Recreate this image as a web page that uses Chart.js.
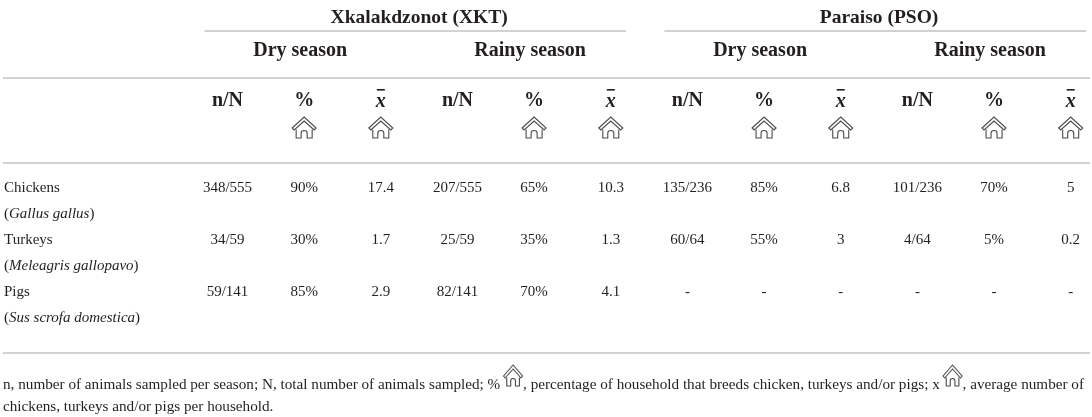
<!DOCTYPE html>
<html>
<head>
<meta charset="utf-8">
<script src="https://cdn.jsdelivr.net/npm/chart.js@4.4.1/dist/chart.umd.min.js"></script>
<style>
  html, body { margin: 0; padding: 0; background: #fff; }
  #wrap { width: 1092px; height: 417px; position: relative; }
</style>
</head>
<body>
<div id="wrap"><canvas id="tableChart"></canvas></div>
<script>
// table content
const groups = ['Xkalakdzonot (XKT)', 'Paraiso (PSO)'];
const seasons = ['Dry season', 'Rainy season'];
const colHeads = ['n/N', '%', 'x'];
const columns = ['XKT dry n/N', 'XKT dry %', 'XKT dry x', 'XKT rainy n/N', 'XKT rainy %', 'XKT rainy x',
                 'PSO dry n/N', 'PSO dry %', 'PSO dry x', 'PSO rainy n/N', 'PSO rainy %', 'PSO rainy x'];
const species = ['Chickens', 'Turkeys', 'Pigs'];
const sciNames = ['Gallus gallus', 'Meleagris gallopavo', 'Sus scrofa domestica'];
const chickens = ['348/555', '90%', '17.4', '207/555', '65%', '10.3', '135/236', '85%', '6.8', '101/236', '70%', '5'];
const turkeys = ['34/59', '30%', '1.7', '25/59', '35%', '1.3', '60/64', '55%', '3', '4/64', '5%', '0.2'];
const pigs = ['59/141', '85%', '2.9', '82/141', '70%', '4.1', '-', '-', '-', '-', '-', '-'];
const footLine1 = ['n, number of animals sampled per season; N, total number of animals sampled; % ',
                   ', percentage of household that breeds chicken, turkeys and/or pigs; x ',
                   ', average number of'];
const footLine2 = 'chickens, turkeys and/or pigs per household.';

const rowLabels = [];
species.forEach((s, i) => { rowLabels.push(s); rowLabels.push('(' + sciNames[i] + ')'); });

const TEXT = '#231f20';
const RULE = '#d2d2d2';
const SERIF = '"Liberation Serif", "DejaVu Serif", serif';

function houseIcon(ctx, cx, top, w, h) {
    const sx = w / 24, sy = h / 21;
    const X = v => cx + v * sx, Y = v => top + v * sy;
    ctx.save();
    ctx.strokeStyle = '#4a4a4a';
    ctx.lineWidth = 1.1;
    ctx.lineJoin = 'miter';
    // roof band
    ctx.beginPath();
    ctx.moveTo(X(-12), Y(11));
    ctx.lineTo(X(0), Y(0));
    ctx.lineTo(X(12), Y(11));
    ctx.lineTo(X(10), Y(13));
    ctx.lineTo(X(0), Y(4));
    ctx.lineTo(X(-10), Y(13));
    ctx.closePath();
    ctx.stroke();
    // walls and door
    ctx.beginPath();
    ctx.moveTo(X(-8), Y(12.5));
    ctx.lineTo(X(-8), Y(21));
    ctx.lineTo(X(-3), Y(21));
    ctx.lineTo(X(-3), Y(16));
    ctx.quadraticCurveTo(X(-3), Y(13.5), X(0), Y(13.5));
    ctx.quadraticCurveTo(X(3), Y(13.5), X(3), Y(16));
    ctx.lineTo(X(3), Y(21));
    ctx.lineTo(X(8), Y(21));
    ctx.lineTo(X(8), Y(12.5));
    ctx.stroke();
    ctx.restore();
}

function rule(ctx, x1, x2, y) {
    ctx.save();
    ctx.strokeStyle = RULE;
    ctx.lineWidth = 2;
    ctx.beginPath();
    ctx.moveTo(x1, y);
    ctx.lineTo(x2, y);
    ctx.stroke();
    ctx.restore();
}

const tablePlugin = {
    id: 'tableText',
    afterDatasetsDraw(chart) {
        const ctx = chart.ctx;
        const xs = chart.scales.x;
        const ys = chart.scales.y;
        const W = chart.width;
        const step = xs.getPixelForValue(1) - xs.getPixelForValue(0);
        ctx.save();
        ctx.fillStyle = TEXT;
        ctx.textBaseline = 'middle';

        // group headings
        ctx.font = 'bold 19.5px ' + SERIF;
        ctx.textAlign = 'center';
        groups.forEach((g, gi) => {
            const a = xs.getPixelForValue(gi * 6), b = xs.getPixelForValue(gi * 6 + 5);
            ctx.fillText(g, (a + b) / 2, 18);
            rule(ctx, a - 0.3 * step, gi === 1 ? W - 6 : b + 0.2 * step, 31);
        });

        // seasons
        ctx.font = 'bold 20px ' + SERIF;
        for (let k = 0; k < 4; k++) {
            ctx.fillText(seasons[k % 2], xs.getPixelForValue(k * 3 + 1) - 4, 51);
        }
        rule(ctx, 3, W - 2, 78);

        // column headers + house icons
        columns.forEach((c, i) => {
            const x = xs.getPixelForValue(i);
            const head = colHeads[i % 3];
            if (head === 'x') {
                ctx.font = 'italic bold 20px ' + SERIF;
                ctx.fillText('x', x, 102);
                ctx.fillRect(x - 4, 89, 8, 1.6);
            } else {
                ctx.font = 'bold 20px ' + SERIF;
                ctx.fillText(head, x, 101);
            }
            if (i % 3 !== 0) houseIcon(ctx, x, 117, 24, 21);
        });
        rule(ctx, 3, W - 2, 163);

        // row labels
        ctx.textAlign = 'left';
        rowLabels.forEach((r, ri) => {
            const y = ys.getPixelForValue(ri);
            if (ri % 2 === 0) {
                ctx.font = '15px ' + SERIF;
                ctx.fillText(r, 4, y);
            } else {
                const name = sciNames[ri >> 1];
                let x = 4;
                ctx.font = '15px ' + SERIF;
                ctx.fillText('(', x, y); x += ctx.measureText('(').width;
                ctx.font = 'italic 15px ' + SERIF;
                ctx.fillText(name, x, y); x += ctx.measureText(name).width;
                ctx.font = '15px ' + SERIF;
                ctx.fillText(')', x, y);
            }
        });

        // cell values from the dataset points
        ctx.textAlign = 'center';
        ctx.font = '15px ' + SERIF;
        chart.data.datasets.forEach((ds, di) => {
            const meta = chart.getDatasetMeta(di);
            meta.data.forEach((pt, i) => ctx.fillText(ds.cells[i], pt.x, pt.y));
        });
        rule(ctx, 3, W - 2, 353);

        // footnote
        ctx.textAlign = 'left';
        ctx.textBaseline = 'alphabetic';
        ctx.font = '15.2px ' + SERIF;
        let fx = 3;
        footLine1.forEach((t, i) => {
            ctx.fillText(t, fx, 389);
            fx += ctx.measureText(t).width;
            if (i < footLine1.length - 1) {
                houseIcon(ctx, fx + 9, 365, 19, 21);
                fx += 19;
            }
        });
        ctx.fillText(footLine2, 3, 411);
        ctx.restore();
    }
};

const bodyRows = [chickens, turkeys, pigs];

new Chart(document.getElementById('tableChart'), {
    type: 'scatter',
    data: {
        datasets: bodyRows.map((vals, si) => ({
            label: species[si],
            cells: vals,
            data: vals.map((v, i) => ({ x: columns[i], y: rowLabels[si * 2] })),
            pointRadius: 0,
            showLine: false
        }))
    },
    options: {
        responsive: true,
        maintainAspectRatio: false,
        animation: false,
        layout: { padding: { left: 227.5, right: 21.3, top: 188, bottom: 99 } },
        plugins: { legend: { display: false }, tooltip: { enabled: false } },
        scales: {
            x: { type: 'category', labels: columns, offset: false, display: false },
            y: { type: 'category', labels: rowLabels, offset: false, display: false }
        }
    },
    plugins: [tablePlugin]
});
</script>
</body>
</html>
